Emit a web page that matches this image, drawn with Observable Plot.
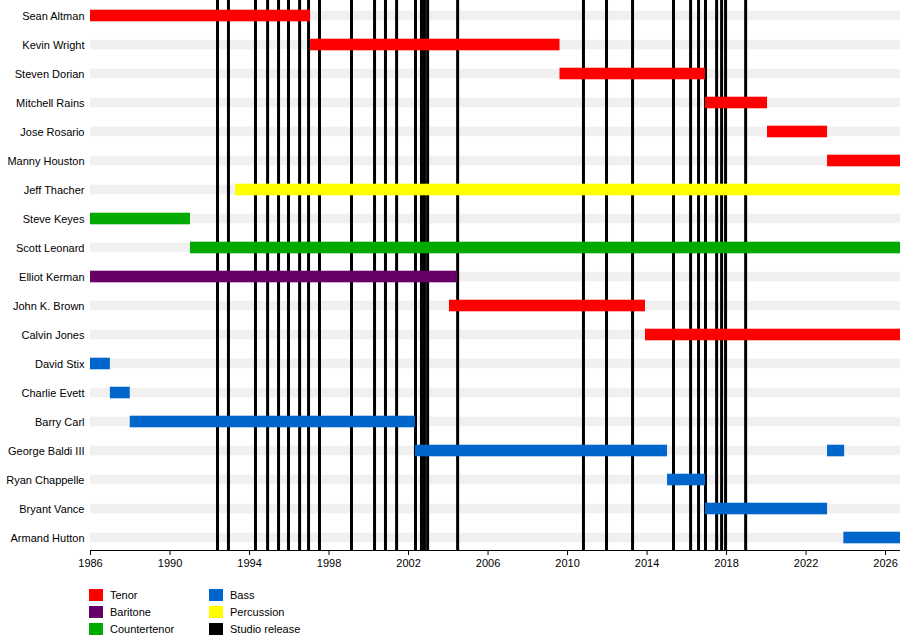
<!DOCTYPE html>
<html><head><meta charset="utf-8">
<script src="https://cdn.jsdelivr.net/npm/d3@7"></script>
<script src="https://cdn.jsdelivr.net/npm/@observablehq/plot@0.6"></script>
<style>
body{margin:0;background:#fff;font-family:"Liberation Sans",Arial,sans-serif;}
#wrap{position:relative;width:900px;height:642px;}
.leg{position:absolute;font-size:11px;display:flex;align-items:center;}
.leg span.sw{width:14px;height:12px;display:inline-block;margin-right:7px;}
</style></head><body>
<div id="wrap"><div id="chart"></div></div>
<script>
const members = ["Sean Altman","Kevin Wright","Steven Dorian","Mitchell Rains","Jose Rosario","Manny Houston","Jeff Thacher","Steve Keyes","Scott Leonard","Elliot Kerman","John K. Brown","Calvin Jones","David Stix","Charlie Evett","Barry Carl","George Baldi III","Ryan Chappelle","Bryant Vance","Armand Hutton"];
const END = 2026.75;
const periodMember = ["Sean Altman","Kevin Wright","Steven Dorian","Mitchell Rains","Jose Rosario","Manny Houston","Jeff Thacher","Steve Keyes","Scott Leonard","Elliot Kerman","John K. Brown","Calvin Jones","David Stix","Charlie Evett","Barry Carl","George Baldi III","George Baldi III","Ryan Chappelle","Bryant Vance","Armand Hutton"];
const periodStart = [1986,1997.07,2009.62,2016.94,2020.06,2023.08,1993.3,1986,1991.03,1986,2004.06,2013.92,1986,1987,1988,2002.35,2023.08,2015.03,2016.94,2023.9];
const periodEnd = [1997.07,2009.62,2016.94,2020.06,2023.08,END,END,1991.03,END,2004.47,2013.92,END,1987,1988,2002.35,2015.03,2023.94,2016.94,2023.08,END];
const periodRole = ["Tenor","Tenor","Tenor","Tenor","Tenor","Tenor","Percussion","Countertenor","Countertenor","Baritone","Tenor","Tenor","Bass","Bass","Bass","Bass","Bass","Bass","Bass","Bass"];
const releases = [1992.39,1992.94,1994.3,1994.91,1995.46,1995.96,1996.52,1996.97,1997.52,1999.13,2000.29,2000.84,2001.4,2002.35,2002.65,2002.8,2002.96,2004.47,2010.8,2011.96,2013.27,2015.33,2016.19,2016.59,2016.94,2017.5,2017.75,2017.95,2018.96];
const roles = ["Tenor","Baritone","Countertenor","Bass","Percussion","Studio release"];
const roleColors = ["#ff0000","#660066","#00aa00","#0066cc","#ffff00","#000000"];
const xTicks = [1986,1990,1994,1998,2002,2006,2010,2014,2018,2022,2026];

const periods = periodMember.map((m,i)=>({m,s:periodStart[i],e:periodEnd[i],r:periodRole[i]}));
const color = d3.scaleOrdinal(roles, roleColors);
const chart = Plot.plot({
  width:900, height:575, marginLeft:90, marginRight:0, marginTop:0, marginBottom:25,
  style:{fontFamily:"Liberation Sans, Arial, sans-serif", fontSize:"11px", color:"#000"},
  x:{domain:[1986,END], ticks:xTicks, tickFormat:d=>String(d), label:null},
  y:{domain:members, range:[-2.7,555.9], padding:0, label:null},
  marks:[
    Plot.barX(members,{x1:1986,x2:END,y:d=>d,fill:"#f0f0f0",insetTop:9.7,insetBottom:9.7}),
    Plot.ruleX(releases,{x:d=>d,stroke:"#000",strokeWidth:3}),
    Plot.barX(periods,{x1:"s",x2:"e",y:"m",fill:d=>color(d.r),insetTop:8.7,insetBottom:8.7}),
    Plot.axisY({tickSize:0,tickPadding:6,label:null}),
    Plot.axisX({ticks:xTicks,tickFormat:d=>String(d),tickSize:5,label:null}),
    Plot.frame({anchor:"bottom"})
  ]
});
document.getElementById("chart").appendChild(chart);
const wrap=document.getElementById("wrap");
roles.forEach((r,i)=>{
  const col=Math.floor(i/3), row=i%3;
  const el=document.createElement("div");
  el.className="leg";
  el.style.left=(89+col*120)+"px"; el.style.top=(589+row*17)+"px";
  el.innerHTML=`<span class="sw" style="background:${roleColors[i]}"></span>${r}`;
  wrap.appendChild(el);
});
</script></body></html>
